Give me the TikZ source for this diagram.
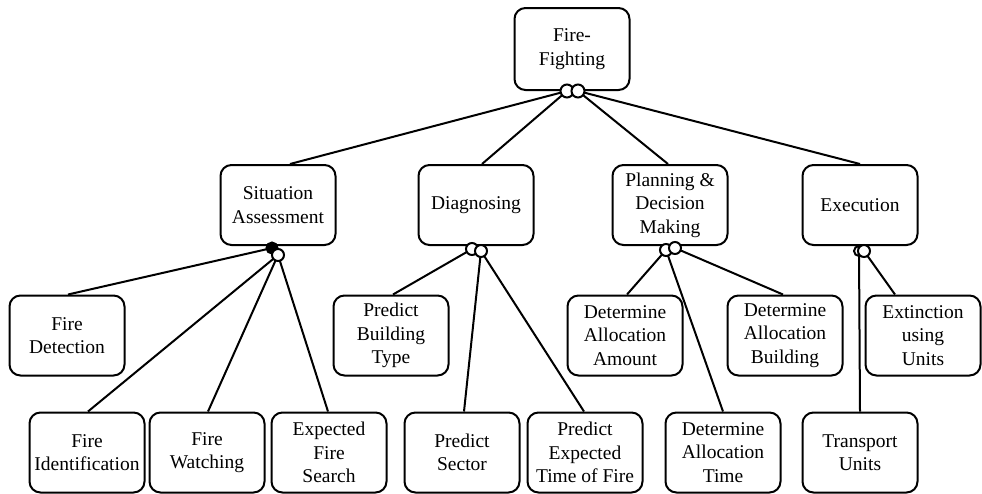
\documentclass[tikz,border=0pt]{standalone}
\usepackage{fontspec}
\setmainfont{Liberation Serif}
\begin{document}
\begin{tikzpicture}[x=1pt,y=-1pt,
  box/.style={draw,line width=2pt,rounded corners=11pt,minimum width=115pt,minimum height=80pt,align=center,inner sep=1pt,font=\fontsize{19.5}{23.5}\selectfont},
  link/.style={line width=2pt},
  ocirc/.style={draw,line width=2pt,fill=white},
  bcirc/.style={draw,line width=2pt,fill=black}]
\useasboundingbox (0,0) rectangle (982,493);
% top
\node[box,minimum height=82pt] (ff) at (572,49) {Fire-\\Fighting};
% level 1
\node[box] (sa) at (278,205) {Situation\\Assessment};
\node[box] (dg) at (476,205) {Diagnosing};
\node[box] (pd) at (670,205) {Planning \&\\Decision\\Making};
\node[box] (ex) at (860,205) {Execution};
% level 2 upper
\node[box] (fd) at (67,335.5) {Fire\\Detection};
\node[box] (pbt) at (391,335.5) {Predict\\Building\\Type};
\node[box] (daa) at (625,335.5) {Determine\\Allocation\\Amount};
\node[box] (dab) at (785,335.5) {Determine\\Allocation\\Building};
\node[box] (euu) at (923,335.5) {Extinction\\using\\Units};
% level 2 lower
\node[box] (fi) at (87,452.5) {Fire\\Identification};
\node[box] (fw) at (207,452.5) {Fire\\Watching};
\node[box] (efs) at (329,452.5) {Expected\\Fire\\Search};
\node[box] (ps) at (462,452.5) {Predict\\Sector};
\node[box] (pet) at (585,452.5) {Predict\\Expected\\Time of Fire};
\node[box] (dat) at (723,452.5) {Determine\\Allocation\\Time};
\node[box] (tu) at (860,452.5) {Transport\\Units};
% circle positions
\coordinate (c0a) at (567,91);
\coordinate (c0b) at (578,91);
\coordinate (c1a) at (272,248);
\coordinate (c1b) at (278,255);
\coordinate (c2a) at (472,249);
\coordinate (c2b) at (481,251);
\coordinate (c3a) at (666,250);
\coordinate (c3b) at (675,248);
\coordinate (c4a) at (859,251);
\coordinate (c4b) at (864,251);
% connectors
\draw[link] (c0a) -- ([xshift=12pt]sa.north);
\draw[link] (c0a) -- ([xshift=6pt]dg.north);
\draw[link] (c0b) -- ([xshift=-2pt]pd.north);
\draw[link] (c0b) -- (ex.north);
\draw[link] (c1a) -- ([xshift=1pt]fd.north);
\draw[link] (c1b) -- ([xshift=1pt]fi.north);
\draw[link] (c1b) -- ([xshift=1pt]fw.north);
\draw[link] (c1b) -- ([xshift=-1pt]efs.north);
\draw[link] (c2a) -- ([xshift=2pt]pbt.north);
\draw[link] (c2b) -- ([xshift=2pt]ps.north);
\draw[link] (c2b) -- ([xshift=-1pt]pet.north);
\draw[link] (c3a) -- ([xshift=2pt]daa.north);
\draw[link] (c3a) -- (dat.north);
\draw[link] (c3b) -- ([xshift=-2pt]dab.north);
\draw[link] (c4a) -- (tu.north);
\draw[link] (c4b) -- ([xshift=-28pt]euu.north);
% circles
\draw[ocirc] (c0a) circle (6.5pt);
\draw[ocirc] (c0b) circle (6.5pt);
\draw[bcirc] (c1a) circle (5.5pt);
\draw[ocirc] (c1b) circle (6pt);
\draw[ocirc] (c2a) circle (6pt);
\draw[ocirc] (c2b) circle (6pt);
\draw[ocirc] (c3a) circle (6pt);
\draw[ocirc] (c3b) circle (6pt);
\draw[ocirc] (c4a) circle (5pt);
\draw[ocirc] (c4b) circle (6pt);
\end{tikzpicture}
\end{document}
